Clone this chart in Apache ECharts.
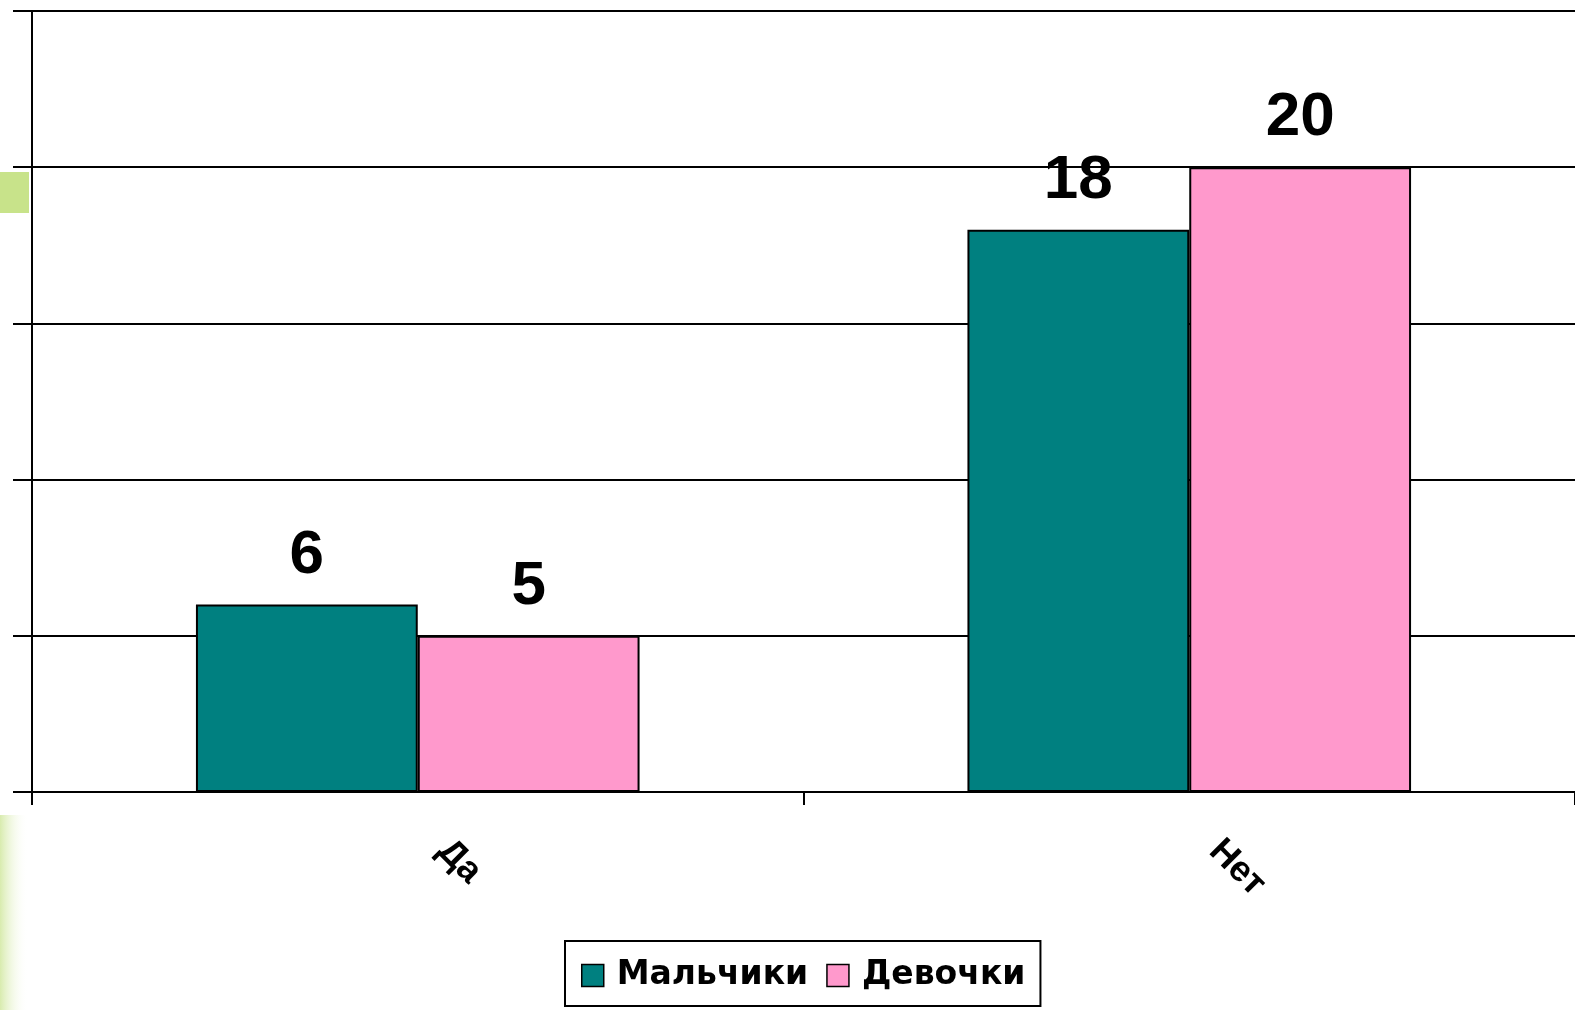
<!DOCTYPE html>
<html>
<head>
<meta charset="utf-8">
<script src="https://cdn.jsdelivr.net/npm/echarts@6/dist/echarts.min.js"></script>
<style>
  html, body { margin: 0; padding: 0; background: #fff; }
  #chart { width: 1575px; height: 1010px; }
</style>
</head>
<body>
<div id="chart"></div>
<script>
const categories = ['Да', 'Нет'];
const boys = [6, 18];
const girls = [5, 20];
const seriesNames = ['Мальчики', 'Девочки'];

const chart = echarts.init(document.getElementById('chart'));
const font = '"Liberation Sans", Arial, sans-serif';

const labelStyle = {
  show: true,
  position: 'top',
  distance: 18,
  color: '#000',
  fontFamily: font,
  fontWeight: 'bold',
  fontSize: 62,
};

chart.setOption({
  backgroundColor: '#fff',
  animation: false,
  graphic: [
    { type: 'rect', left: 0, top: 172, shape: { width: 29, height: 41 }, style: { fill: '#c8e38a' }, z: -1 },
    {
      type: 'rect', left: 0, top: 815, shape: { width: 28, height: 195 }, z: -1,
      style: {
        fill: new echarts.graphic.LinearGradient(0, 0, 1, 0, [
          { offset: 0, color: 'rgba(190,222,120,0.6)' },
          { offset: 1, color: 'rgba(255,255,255,0)' },
        ]),
      },
    },
  ],
  grid: { left: 32, right: -2, top: 11, bottom: 218 },
  legend: {
    data: seriesNames,
    icon: 'rect',
    left: 565,
    top: 941,
    padding: [18, 15, 14, 16],
    itemWidth: 22,
    itemHeight: 22,
    itemGap: 18,
    borderColor: '#000',
    borderWidth: 2,
    itemStyle: { borderColor: '#000', borderWidth: 1.5 },
    formatter: (name) => `{t|${name}}`,
    textStyle: {
      rich: {
        t: {
          fontFamily: '"DejaVu Sans", sans-serif',
          fontWeight: 'bold',
          fontSize: 33,
          color: '#000',
          padding: [0, 0, 0, 8],
        },
      },
    },
  },
  xAxis: {
    type: 'category',
    data: categories,
    axisLine: { lineStyle: { color: '#000', width: 2 } },
    axisTick: { show: true, length: 13, lineStyle: { color: '#000', width: 2 } },
    axisLabel: {
      rotate: -45,
      margin: 28,
      padding: [0, 0, 0, 36],
      color: '#000',
      fontFamily: font,
      fontWeight: 'bold',
      fontSize: 36,
    },
  },
  yAxis: {
    type: 'value',
    min: 0,
    max: 25,
    interval: 5,
    axisLine: { show: true, lineStyle: { color: '#000', width: 2 } },
    axisTick: { show: true, length: 19, lineStyle: { color: '#000', width: 2 } },
    axisLabel: { show: false },
    splitLine: { lineStyle: { color: '#000', width: 2 } },
  },
  series: [
    {
      name: seriesNames[0],
      type: 'bar',
      data: boys,
      barGap: '0%',
      barCategoryGap: '42.5%',
      itemStyle: { color: '#008080', borderColor: '#000', borderWidth: 2 },
      label: labelStyle,
    },
    {
      name: seriesNames[1],
      type: 'bar',
      data: girls,
      itemStyle: { color: '#ff99cc', borderColor: '#000', borderWidth: 2 },
      label: labelStyle,
    },
  ],
});
</script>
</body>
</html>
